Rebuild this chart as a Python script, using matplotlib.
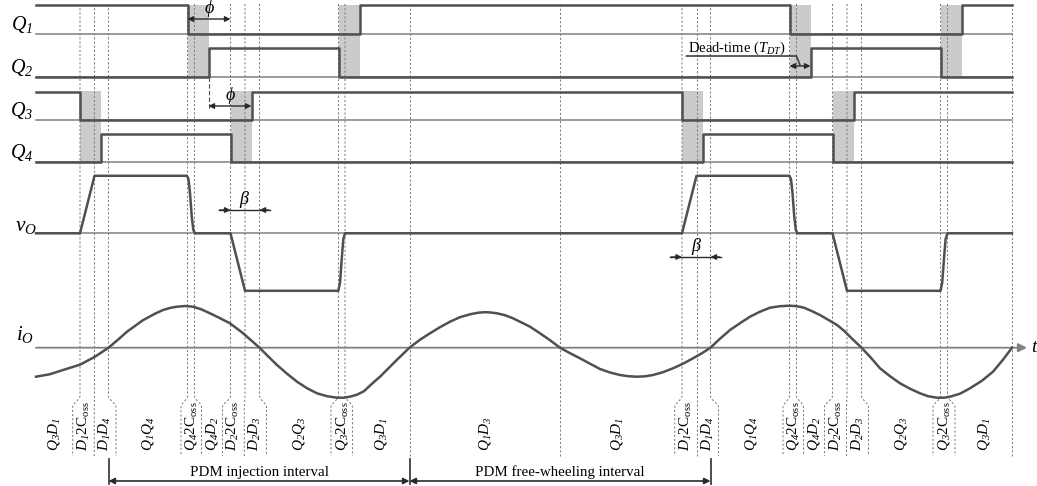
import numpy as np
import matplotlib.pyplot as plt
from matplotlib.transforms import Affine2D

plt.rcParams['font.family'] = ['Liberation Serif', 'DejaVu Serif']
plt.rcParams['mathtext.fontset'] = 'custom'
plt.rcParams['mathtext.rm'] = 'Liberation Serif:italic'
plt.rcParams['mathtext.it'] = 'Liberation Serif:italic'
plt.rcParams['mathtext.sf'] = 'Liberation Serif'

# time span of the drawing (same units as the horizontal axis)
t_start, t_end = 36, 1012

# gate signals: switching instants and the logic level that follows each one
q1_t = [36, 187.5, 359.5, 789.5, 961.5, 1012]
q1_s = [1, 0, 1, 0, 1]
q2_t = [36, 208.5, 338.5, 810.5, 940.5, 1012]
q2_s = [0, 1, 0, 1, 0]
q3_t = [36, 80, 251.5, 682, 853.5, 1012]
q3_s = [1, 0, 1, 0, 1]
q4_t = [36, 101, 230.5, 703, 832.5, 1012]
q4_s = [0, 1, 0, 1, 0]

# output voltage, normalised to the dc link
vo_t = [36, 80, 94.5, 187, 188.5, 190, 191.7, 193.3, 195, 230.5, 245, 338.3, 340, 341.7,
        343.3, 345, 682, 696.5, 789.5, 791, 792.5, 794.2, 795.8, 797.5, 832.5, 847,
        940.5, 942.2, 943.9, 945.6, 947.5, 1012]
vo_v = [0, 0, 1, 1, 0.94, 0.7, 0.3, 0.06, 0, 0, -1, -1, -0.86, -0.46,
        -0.1, 0, 0, 1, 1, 0.94, 0.7, 0.3, 0.06, 0, 0, -1,
        -1, -0.86, -0.46, -0.1, 0, 0]

# output current
io_t = [36, 50, 63, 80, 95, 108.5, 118, 127, 143, 155, 163, 171, 177, 185, 193, 201, 210,
        220, 230, 243, 259.5, 268, 277, 287, 297, 307, 317, 327, 337, 344, 350, 357, 364,
        372, 380, 388, 397, 409.5, 420, 430, 440, 450, 460, 470, 478, 485, 490, 497, 505,
        513, 521, 530, 540, 550, 560, 570, 580, 590, 600, 610, 620, 628, 637, 645, 653,
        663, 673, 683, 693, 702, 710.5, 720, 730, 740, 750, 760, 770, 780, 790, 797, 804,
        812, 820, 828, 837, 844, 850, 861.5, 870, 880, 890, 900, 910, 920, 928, 937, 944,
        950, 960, 970, 982, 993, 1003, 1012]
io_v = [-29, -26.5, -22.3, -17, -9, 0, 8, 16, 27.5, 34, 37.7, 40, 41, 41.7, 41, 38.5, 34.4,
        29.5, 24.4, 14.5, 0, -8.5, -17.3, -26, -34, -40.5, -45.6, -48.5, -50, -50, -49, -47, -43.5,
        -36, -29, -21, -12, 0, 8, 14.4, 20.5, 26, 30.5, 33.4, 35, 35.5, 35.3, 34.4, 32.5,
        29.4, 25.5, 21, 14.4, 7.5, 0, -5.5, -10.6, -16, -21.3, -24.8, -27.3, -28.5, -29, -28.6, -27.3,
        -24.5, -20.6, -16, -10.6, -5.5, 0, 9, 17.7, 24.5, 31, 36, 40, 41.5, 42, 41.5, 40,
        36.5, 32.7, 28, 22.7, 17, 11, 0, -9, -20.6, -28.5, -35.6, -41, -45.6, -48.5, -50, -50,
        -49, -46, -40.6, -33, -24, -12, 0]

# boundaries of the operating intervals (top) and of their labels (bottom)
guide_t = [80, 94.5, 108.5, 187.5, 194.5, 230.5, 245, 259.5, 338.5, 345, 409.5, 560,
           682, 696.5, 710.5, 789.5, 796.5, 832.5, 847, 861.5, 940.5, 947.5, 1012]
label_edges = [36, 72.7, 94.3, 116, 181, 201.5, 222.5, 244.3, 266.5, 331, 352.5, 409.5, 560,
               674.7, 696.5, 718.5, 783, 803.5, 824.5, 846.5, 868.5, 933, 955, 1012]
coss = r'\mathsf{2C}_{\mathsf{oss}}'
interval_labels = [r'$Q_3D_1$', r'$D_1' + coss + '$', r'$D_1D_4$', r'$Q_1Q_4$',
                   r'$Q_4' + coss + '$', r'$Q_4D_2$', r'$D_2' + coss + '$', r'$D_2D_3$',
                   r'$Q_2Q_3$', r'$Q_3' + coss + '$', r'$Q_3D_1$', r'$Q_1D_3$', r'$Q_3D_1$',
                   r'$D_1' + coss + '$', r'$D_1D_4$', r'$Q_1Q_4$', r'$Q_4' + coss + '$',
                   r'$Q_4D_2$', r'$D_2' + coss + '$', r'$D_2D_3$', r'$Q_2Q_3$',
                   r'$Q_3' + coss + '$', r'$Q_3D_1$']
pdm_bounds = [108.5, 409.5, 710.5]
pdm_labels = ['PDM injection interval', 'PDM free-wheeling interval']

TRACE = '#505050'
AXIS = '#808080'
GUIDE = '#7c7c7c'
SHADE = '#cbcbcb'
ARROW = '#2a2a2a'

fig = plt.figure(figsize=(10.37, 4.86), dpi=100)
ax = fig.add_axes([0, 0, 1, 1])
ax.set_xlim(0, 1037)
ax.set_ylim(486, 0)
ax.axis('off')


def row(base, amp):
    return Affine2D().scale(1, -amp).translate(0, base) + ax.transData


# gate rows
q_rows = [(q1_t, q1_s, r'$Q_1$'), (q2_t, q2_s, r'$Q_2$'),
          (q3_t, q3_s, r'$Q_3$'), (q4_t, q4_s, r'$Q_4$')]
q_base = [34, 77, 120, 162]
q_amp = 28.5
for (t, s, name), base in zip(q_rows, q_base):
    tr = row(base, q_amp)
    ax.plot([t_start, t_end], [0, 0], transform=tr, color=AXIS, lw=1.1, zorder=3)
    ax.step(t, s + [s[-1]], where='post', transform=tr, color=TRACE, lw=1.8, zorder=4)
    ax.text(33.5, base - 4, name, ha='right', va='baseline', fontsize=14.5)

# dead-time shading, from the merged edges of each leg
for ta, tb, top, bottom in [(q1_t, q2_t, q_base[0] - q_amp, q_base[1]),
                            (q3_t, q4_t, q_base[2] - q_amp, q_base[3])]:
    edges = sorted(ta[1:-1] + tb[1:-1])
    for a, b in zip(edges[0::2], edges[1::2]):
        ax.fill_between([a, b], top, bottom, color=SHADE, lw=0, zorder=1)

# output voltage
vo_base, vo_amp = 233.3, 57.5
tr = row(vo_base, vo_amp)
ax.plot([t_start, t_end], [0, 0], transform=tr, color=AXIS, lw=1.1, zorder=3)
ax.plot(vo_t, vo_v, transform=tr, color=TRACE, lw=1.8, zorder=4,
        solid_joinstyle='round')
ax.text(37, 231, r'$v_O$', ha='right', va='baseline', fontsize=15.5)

# output current
io_base = 347.7
tr = row(io_base, 1.0)
ax.annotate('', xy=(1027, io_base), xytext=(t_start, io_base),
            arrowprops=dict(arrowstyle='-|>', color=AXIS, lw=1.3, mutation_scale=13,
                            shrinkA=0, shrinkB=0), zorder=3)
ax.plot(io_t, io_v, transform=tr, color=TRACE, lw=1.8, zorder=4)
ax.text(34, 340, r'$i_O$', ha='right', va='baseline', fontsize=15)
ax.text(1031, 352, r'$t$', ha='left', va='baseline', fontsize=14)

# interval guides, bending out around the narrow labels
s = np.linspace(0, 1, 10)
bend = 3 * s ** 2 - 2 * s ** 3
for xt, xb in zip(guide_t, label_edges[1:]):
    xs = np.concatenate([[xt], xt + (xb - xt) * bend, [xb]])
    ys = np.concatenate([[4], 396 + 11 * s, [456]])
    ax.plot(xs, ys, color=GUIDE, lw=0.75, ls=(0, (2, 2)), zorder=2)

for a, b, text in zip(label_edges[:-1], label_edges[1:], interval_labels):
    ax.text((a + b) / 2, 451, text, rotation=90, rotation_mode='anchor',
            ha='left', va='center', fontsize=11)

# phase-shift marks
phi_y = [19, 106]
for (a, b), y in zip([(q1_t[1], q4_t[2]), (q2_t[1], q3_t[2])], phi_y):
    ax.annotate('', xy=(b, y), xytext=(a, y),
                arrowprops=dict(arrowstyle='<|-|>', color=ARROW, lw=1.0, mutation_scale=8,
                                shrinkA=0, shrinkB=0), zorder=5)
    ax.text((a + b) / 2, y - 6, r'$\phi$', ha='center', va='baseline', fontsize=13)
ax.plot([q2_t[1], q2_t[1]], [q_base[1], 110], color=TRACE, lw=0.8, ls=(0, (4, 2)), zorder=2)

# beta marks on the voltage ramps
for (a, b), y in zip([(guide_t[5], guide_t[7]), (guide_t[12], guide_t[14])], [210, 257]):
    ax.plot([a - 12, b + 10], [y, y], color=ARROW, lw=1.0, zorder=5)
    for tip, tail in [(a, a - 11), (b, b + 9)]:
        ax.annotate('', xy=(tip, y), xytext=(tail, y),
                    arrowprops=dict(arrowstyle='-|>', color=ARROW, lw=1.0, mutation_scale=8,
                                    shrinkA=0, shrinkB=0), zorder=5)
    ax.text((a + b) / 2, y - 6, r'$\beta$', ha='center', va='baseline', fontsize=13)

# dead-time mark
dt_a, dt_b = q1_t[3], q2_t[3]
dt_y = 66
ax.annotate('', xy=(dt_b, dt_y), xytext=(dt_a, dt_y),
            arrowprops=dict(arrowstyle='<|-|>', color=ARROW, lw=1.0, mutation_scale=8,
                            shrinkA=0, shrinkB=0), zorder=5)
ax.text(688, 52, r'Dead-time ($T_{DT}$)', ha='left', va='baseline', fontsize=10.5)
ax.plot([686.5, 796.5, 800], [56, 56, dt_y - 1], color='#404040', lw=1.2, zorder=5)

# PDM interval arrows
for x in pdm_bounds:
    ax.plot([x, x], [459, 484], color='#404040', lw=1.3, zorder=5)
for a, b, text in zip(pdm_bounds[:-1], pdm_bounds[1:], pdm_labels):
    ax.annotate('', xy=(b, 481), xytext=(a, 481),
                arrowprops=dict(arrowstyle='<|-|>', color=ARROW, lw=1.2, mutation_scale=9,
                                shrinkA=0, shrinkB=0), zorder=5)
    ax.text((a + b) / 2, 476, text, ha='center', va='baseline', fontsize=10.8)

fig.savefig('out.png', dpi=100)
